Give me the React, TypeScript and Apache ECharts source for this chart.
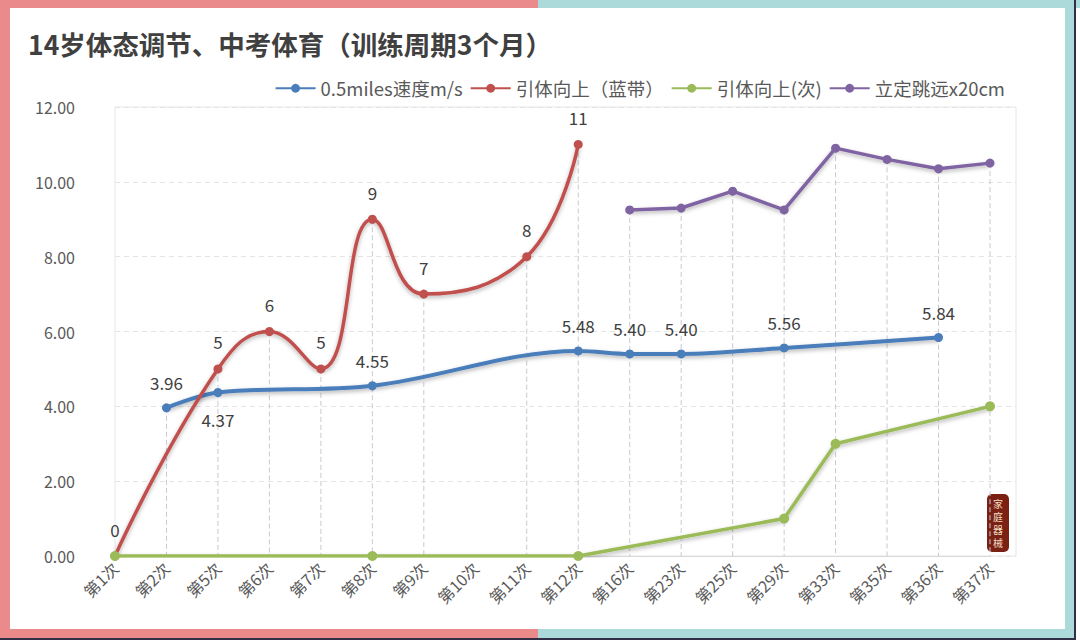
import React, { useEffect, useRef } from "react";
import * as echarts from "echarts";

const categories = ["第1次", "第2次", "第5次", "第6次", "第7次", "第8次", "第9次", "第10次", "第11次", "第12次", "第16次", "第23次", "第25次", "第29次", "第33次", "第35次", "第36次", "第37次"];
const speed = [null, 3.96, 4.37, null, null, 4.55, null, null, null, 5.48, 5.4, 5.4, null, 5.56, null, null, 5.84, null];
const pullBand = [0, null, 5, 6, 5, 9, 7, null, 8, 11, null, null, null, null, null, null, null, null];
const pullCount = [0, null, null, null, null, 0, null, null, null, 0, null, null, null, 1, 3, null, null, 4];
const longJump = [null, null, null, null, null, null, null, null, null, null, 9.25, 9.3, 9.75, 9.25, 10.9, 10.6, 10.35, 10.5];
const yTicks = [0, 12, 2];
const seriesNames = ["0.5miles速度m/s", "引体向上（蓝带）", "引体向上(次)", "立定跳远x20cm"];
const speedLabelBelow = ["第5次"];

const FONT = "'Noto Sans CJK SC', 'Noto Sans', sans-serif";

export default function App() {
  const ref = useRef<HTMLDivElement>(null);
  useEffect(() => {
    if (!ref.current) return;
    const chart = echarts.init(ref.current, null, { renderer: "svg" });
    const all = [speed, pullBand, pullCount, longJump];
    const drops: any[] = [];
    categories.forEach((_, i) => {
      const vals = all.map((a) => a[i]).filter((v) => v !== null && v !== undefined) as number[];
      if (vals.length) drops.push([i, Math.max(...vals)]);
    });
    const lineShadow = { shadowColor: "rgba(0,0,0,0.3)", shadowBlur: 4, shadowOffsetY: 2 };
    const valueLabel = { show: true, position: "top", distance: 12, fontSize: 17, color: "#404040", fontFamily: FONT };
    const option: any = {
      animation: false,
      backgroundColor: "#ffffff",
      title: {
        text: "14岁体态调节、中考体育（训练周期3个月）",
        left: 23,
        top: 25,
        textStyle: { fontSize: 26.5, fontWeight: "bold", color: "#404040", fontFamily: FONT },
      },
      legend: {
        data: seriesNames,
        right: 70,
        top: 74,
        itemWidth: 40,
        itemHeight: 11,
        itemGap: 7,
        textStyle: { fontSize: 18.5, color: "#595959", fontFamily: FONT },
      },
      grid: [
        { left: 115, right: 64, top: 107, bottom: 86, show: true, borderColor: "#e6e6e6", borderWidth: 1 },
        { left: 115, right: 90, top: 107, bottom: 86 },
      ],
      xAxis: [
        { type: "value", gridIndex: 0, min: 0, max: 1, show: false },
        {
          type: "category",
          gridIndex: 1,
          data: categories,
          boundaryGap: false,
          axisLine: { lineStyle: { color: "#d9d9d9" } },
          axisTick: { show: false },
          axisLabel: { rotate: 45, fontSize: 16, color: "#595959", fontFamily: FONT, margin: 9, interval: 0 },
          splitLine: { show: false },
        },
      ],
      yAxis: [
        {
          type: "value",
          gridIndex: 0,
          min: yTicks[0],
          max: yTicks[1],
          interval: yTicks[2],
          axisLine: { show: false },
          axisTick: { show: false },
          axisLabel: { fontSize: 16, color: "#595959", fontFamily: FONT, margin: 40, formatter: (v: number) => v.toFixed(2) },
          splitLine: { lineStyle: { color: "#e4e4e4", type: [5, 4] } },
        },
        { type: "value", gridIndex: 1, min: yTicks[0], max: yTicks[1], interval: yTicks[2], show: false },
      ],
      series: [
        {
          type: "custom",
          name: "drop",
          xAxisIndex: 1,
          yAxisIndex: 1,
          data: drops,
          silent: true,
          z: 1,
          renderItem: (params: any, api: any) => {
            const x = api.value(0);
            const y = api.value(1);
            const p1 = api.coord([x, y]);
            const p0 = api.coord([x, 0]);
            return {
              type: "line",
              shape: { x1: p1[0], y1: p1[1], x2: p0[0], y2: p0[1] },
              style: { stroke: "#c8c8da", lineWidth: 1, lineDash: [5, 3] },
            };
          },
        },
        {
          name: seriesNames[0],
          type: "line",
          xAxisIndex: 1,
          yAxisIndex: 1,
          data: speed.map((v, i) => (v !== null && speedLabelBelow.includes(categories[i]) ? { value: v, label: { position: "bottom", distance: 14 } } : v)),
          connectNulls: true,
          smooth: 0.35,
          symbol: "circle",
          symbolSize: 9,
          itemStyle: { color: "#4a7ebb" },
          lineStyle: { width: 4, color: "#4a7ebb", ...lineShadow },
          label: { ...valueLabel, formatter: (p: any) => Number(p.value).toFixed(2) },
          z: 3,
        },
        {
          name: seriesNames[1],
          type: "line",
          xAxisIndex: 1,
          yAxisIndex: 1,
          data: pullBand,
          connectNulls: true,
          smooth: 0.45,
          symbol: "circle",
          symbolSize: 9,
          itemStyle: { color: "#c0504d" },
          lineStyle: { width: 3.5, color: "#c0504d", ...lineShadow },
          label: { ...valueLabel, distance: 14 },
          z: 4,
        },
        {
          name: seriesNames[2],
          type: "line",
          xAxisIndex: 1,
          yAxisIndex: 1,
          data: pullCount,
          connectNulls: true,
          smooth: false,
          symbol: "circle",
          symbolSize: 10,
          itemStyle: { color: "#9bbb59" },
          lineStyle: { width: 3.5, color: "#9bbb59", ...lineShadow },
          z: 5,
        },
        {
          name: seriesNames[3],
          type: "line",
          xAxisIndex: 1,
          yAxisIndex: 1,
          data: longJump,
          connectNulls: true,
          smooth: false,
          symbol: "circle",
          symbolSize: 9,
          itemStyle: { color: "#8064a2" },
          lineStyle: { width: 3.5, color: "#8064a2", ...lineShadow },
          z: 3,
        },
      ],
      graphic: [
        { type: "rect", silent: true, z: 100, shape: { x: 0, y: 0, width: 10, height: 638 }, style: { fill: "#eb8a8b" } },
        { type: "rect", silent: true, z: 100, shape: { x: 0, y: 0, width: 538, height: 8 }, style: { fill: "#eb8a8b" } },
        { type: "rect", silent: true, z: 100, shape: { x: 0, y: 629, width: 538, height: 9 }, style: { fill: "#eb8a8b" } },
        { type: "rect", silent: true, z: 100, shape: { x: 538, y: 0, width: 542, height: 8 }, style: { fill: "#acd9da" } },
        { type: "rect", silent: true, z: 100, shape: { x: 538, y: 629, width: 536, height: 9 }, style: { fill: "#acd9da" } },
        { type: "rect", silent: true, z: 100, shape: { x: 1065, y: 0, width: 9, height: 638 }, style: { fill: "#acd9da" } },
        { type: "rect", silent: true, z: 100, shape: { x: 0, y: 638, width: 1076, height: 2 }, style: { fill: "#2f3045" } },
        { type: "rect", silent: true, z: 100, shape: { x: 1074, y: 0, width: 2, height: 640 }, style: { fill: "#2f3045" } },
        {
          type: "group",
          silent: true,
          z: 100,
          children: [
            { type: "rect", shape: { x: 987, y: 494, width: 22, height: 58, r: 5 }, style: { fill: "#7b2114" } },
            {
              type: "text",
              x: 998,
              y: 523,
              style: { text: "家\n庭\n器\n械", fill: "#f1dcc0", fontSize: 10, lineHeight: 13, align: "center", verticalAlign: "middle", fontFamily: FONT },
            },
          ],
        },
      ],
    };
    chart.setOption(option);
    return () => chart.dispose();
  }, []);
  return <div ref={ref} style={{ position: "fixed", left: 0, top: 0, width: 1080, height: 642 }} />;
}
